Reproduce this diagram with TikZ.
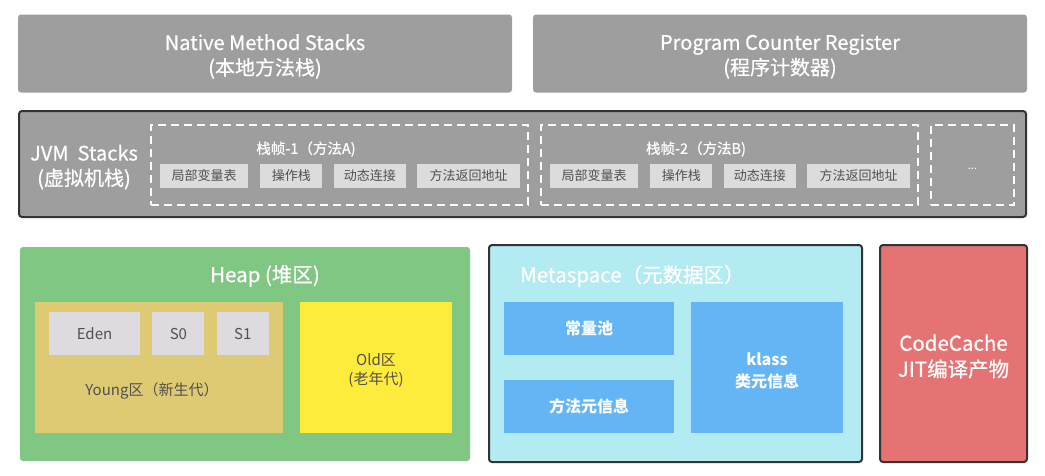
\documentclass[tikz,border=0pt]{standalone}
\usepackage{fontspec}
\setmainfont{Noto Sans CJK SC}
\newfontfamily\headfont[FakeBold=0.6]{Noto Sans CJK SC}
\usepackage{tikz}
\usetikzlibrary{
	positioning,
	}
\definecolor{areagray}{HTML}{9E9E9E}
\definecolor{edgegray}{HTML}{333333}
\definecolor{cellgray}{HTML}{DCDCDC}
\definecolor{celltext}{HTML}{505050}
\definecolor{heapgreen}{HTML}{81C784}
\definecolor{younggold}{HTML}{DFCA74}
\definecolor{edengray}{HTML}{DDDBDF}
\definecolor{oldyellow}{HTML}{FFEB3B}
\definecolor{metacyan}{HTML}{B2EBF2}
\definecolor{metablue}{HTML}{64B5F6}
\definecolor{cachered}{HTML}{E57373}
\tikzset{
	area/.style={rounded corners=3pt, inner sep=0pt, align=center, text=white},
	frame/.style={draw=white, dash pattern=on 8pt off 5pt, line width=1.6pt, inner sep=0pt},
	cell/.style={fill=cellgray, inner sep=0pt, text=celltext, font=\fontsize{13}{15}\selectfont},
	dim/.style 2 args={minimum width=#1pt, minimum height=#2pt},
	big/.style={font=\headfont\fontsize{20}{25}\selectfont},
	mid/.style={font=\headfont\fontsize{20.5}{26}\selectfont},
	lab/.style={inner sep=0pt, align=center, yshift=-3pt},
	inner/.style={inner sep=0pt, align=center, text=celltext, font=\fontsize{15}{19}\selectfont},
}
\begin{document}
\begin{tikzpicture}[x=1pt, y=-1pt]
	\useasboundingbox (0,0) rectangle (1045,475);

	\node[area, fill=areagray, dim={494}{78}, label={[lab, big, text=white]center:{Native Method Stacks\\(本地方法栈)}}] (native) at (265,53.5) {};
	\node[area, fill=areagray, dim={494}{78}, label={[lab, big, text=white]center:{Program Counter Register\\(程序计数器)}}] (pcr) at (780,53.5) {};

	\node[area, fill=areagray, draw=edgegray, line width=2pt, dim={1007}{106}] (jvm) at (522.5,164) {};
	\node[area, big, inner sep=0pt] (jvmlabel) at (84,167) {JVM\ \ Stacks\\(虚拟机栈)};

	\node[frame, dim={377}{80}] (frame1) at (339.5,165) {};
	\node[text=white, inner sep=0pt, font=\headfont\fontsize{14.5}{16}\selectfont] (title1) at (306,149) {栈帧-1（方法A)};
	\node[cell, dim={88}{24}] (local1) at (204,176) {局部变量表};
	\node[cell, dim={62}{24}, right=12pt of local1] (operand1) {操作栈};
	\node[cell, dim={72}{24}, right=11pt of operand1] (link1) {动态连接};
	\node[cell, dim={103}{24}, right=11pt of link1] (ret1) {方法返回地址};

	\node[frame, dim={377}{80}] (frame2) at (729.5,165) {};
	\node[text=white, inner sep=0pt, font=\headfont\fontsize{14.5}{16}\selectfont] (title2) at (696,149) {栈帧-2（方法B)};
	\node[cell, dim={88}{24}] (local2) at (594,176) {局部变量表};
	\node[cell, dim={62}{24}, right=12pt of local2] (operand2) {操作栈};
	\node[cell, dim={72}{24}, right=11pt of operand2] (link2) {动态连接};
	\node[cell, dim={103}{24}, right=11pt of link2] (ret2) {方法返回地址};

	\node[frame, dim={83}{80}] (frame3) at (972.5,165) {};
	\node[text=white, inner sep=0pt, font=\fontsize{11}{13}\selectfont] (more) at (972.5,169) {...};

	\node[area, fill=heapgreen, dim={450}{214}] (heap) at (245,354) {};
	\node[text=white, inner sep=0pt, mid] (heaptitle) at (265,276) {Heap (堆区)};
	\node[inner, fill=younggold, dim={248}{131}] (young) at (159,367.5) {};
	\node[inner, fill=edengray, dim={91}{43}] (eden) at (94.5,333.5) {Eden};
	\node[inner, fill=edengray, dim={52}{43}, right=12pt of eden] (s0) {S0};
	\node[inner, fill=edengray, dim={52}{43}, right=12pt of s0] (s1) {S1};
	\node[inner] (younglabel) at (152,391) {Young区（新生代）};
	\node[inner, fill=oldyellow, dim={152}{131}, label={[lab, inner]center:{Old区\\(老年代)}}] (old) at (376,367.5) {};

	\node[area, fill=metacyan, draw=edgegray, line width=2pt, dim={373}{217}] (meta) at (675.5,353.5) {};
	\node[text=white, inner sep=0pt, anchor=west, mid] (metatitle) at (520,276) {Metaspace（元数据区）};
	\node[area, rounded corners=0pt, fill=metablue, dim={170}{53}, font=\fontsize{16}{21}\selectfont\bfseries] (pool) at (589,328.5) {常量池};
	\node[area, rounded corners=0pt, fill=metablue, dim={170}{53}, font=\fontsize{16}{21}\selectfont\bfseries] (methodinfo) at (589,406.5) {方法元信息};
	\node[area, rounded corners=0pt, fill=metablue, dim={152}{131}, label={[lab, text=white, font=\fontsize{16}{22}\selectfont\bfseries]center:{klass\\类元信息}}] (klass) at (767,367.5) {};

	\node[area, fill=cachered, draw=edgegray, line width=2pt, dim={147}{217}, label={[lab, mid, text=white]center:{CodeCache\\JIT编译产物}}] (cache) at (953.5,353.5) {};
\end{tikzpicture}
\end{document}
